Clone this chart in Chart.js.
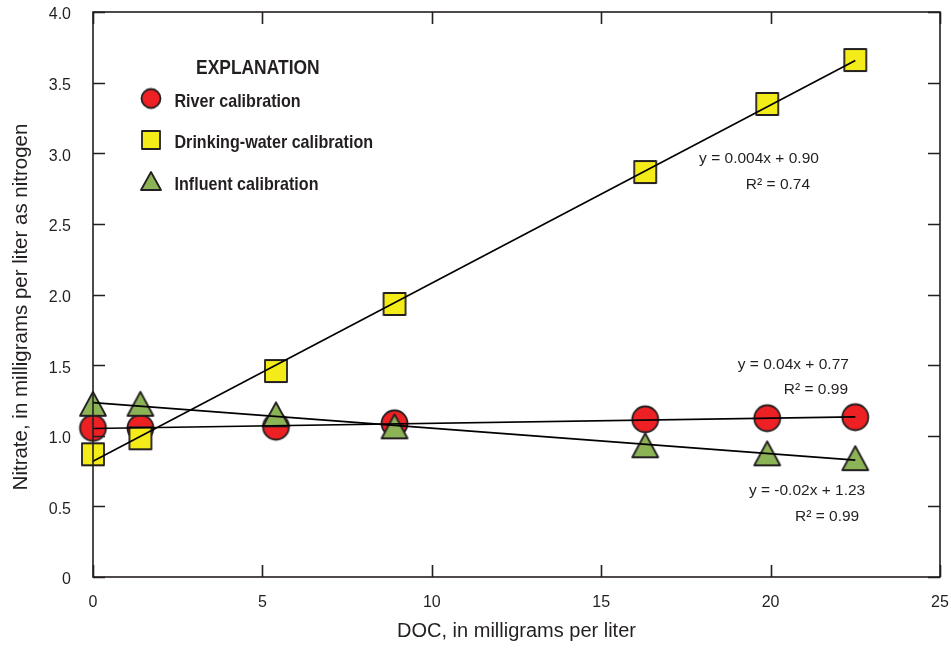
<!DOCTYPE html>
<html>
<head>
<meta charset="utf-8">
<script src="https://cdn.jsdelivr.net/npm/chart.js@4.4.0/dist/chart.umd.min.js"></script>
<style>
  html, body { margin: 0; padding: 0; background: #fff; }
  #wrap { width: 951px; height: 653px; position: relative; }
</style>
</head>
<body>
<div id="wrap"><canvas id="chart"></canvas></div>
<script>
// DOC (mg/L) of the calibration standards, same for all three series
const docValues = [0, 1.4, 5.4, 8.9, 16.3, 19.9, 22.5];
// nitrate (mg/L as N) measured for each calibration
const riverNitrate = [1.055, 1.055, 1.064, 1.088, 1.116, 1.124, 1.131];
const drinkingNitrate = [0.869, 0.982, 1.458, 1.933, 2.867, 3.349, 3.660];
const influentNitrate = [1.223, 1.223, 1.148, 1.063, 0.929, 0.872, 0.838];

const seriesNames = ['River calibration', 'Drinking-water calibration', 'Influent calibration'];

// tick values / labels
const xTicks = [0, 5, 10, 15, 20, 25];
const yTicks = [0, 0.5, 1.0, 1.5, 2.0, 2.5, 3.0, 3.5, 4.0];
const yTickLabels = ['0', '0.5', '1.0', '1.5', '2.0', '2.5', '3.0', '3.5', '4.0'];

const xTitle = 'DOC, in milligrams per liter';
const yTitle = 'Nitrate, in milligrams per liter as nitrogen';

// regression equations as printed on the figure
const fitText = [
    ['y = 0.004x + 0.90', 'R\u00B2 = 0.74'],
    ['y = 0.04x + 0.77', 'R\u00B2 = 0.99'],
    ['y = -0.02x + 1.23', 'R\u00B2 = 0.99']
];

const INK = '#231f20';
const FONT = "'Liberation Sans', Arial, sans-serif";

// least squares line through a series, drawn from first to last x
function fitLine(xs, ys) {
    const n = xs.length;
    const mx = xs.reduce((a, b) => a + b, 0) / n;
    const my = ys.reduce((a, b) => a + b, 0) / n;
    let sxy = 0, sxx = 0;
    for (let i = 0; i < n; i++) {
        sxy += (xs[i] - mx) * (ys[i] - my);
        sxx += (xs[i] - mx) * (xs[i] - mx);
    }
    const b = sxy / sxx;
    const a = my - b * mx;
    const x0 = Math.min(...xs), x1 = Math.max(...xs);
    return [{ x: x0, y: a + b * x0 }, { x: x1, y: a + b * x1 }];
}

// marker images (centered on their bounding box)
function makeMarker(shape, fill, w, h) {
    const pad = 3;
    const c = document.createElement('canvas');
    c.width = w + pad * 2;
    c.height = h + pad * 2;
    const g = c.getContext('2d');
    g.fillStyle = fill;
    g.strokeStyle = INK;
    g.lineWidth = 1.8;
    g.lineJoin = 'round';
    g.beginPath();
    if (shape === 'circle') {
        g.arc(pad + w / 2, pad + h / 2, w / 2 - 0.5, 0, Math.PI * 2);
    } else if (shape === 'square') {
        g.rect(pad + 1, pad + 1, w - 2, h - 2);
    } else {
        g.moveTo(pad + w / 2, pad);
        g.lineTo(pad + w, pad + h - 1);
        g.lineTo(pad, pad + h - 1);
        g.closePath();
    }
    g.fill();
    g.stroke();
    return c;
}

const RED = '#ed2024', YELLOW = '#f3ec19', GREEN = '#8cb356';
const markers = [
    makeMarker('circle', RED, 27, 27),
    makeMarker('square', YELLOW, 24, 24),
    makeMarker('triangle', GREEN, 26, 25)
];
const legendMarkers = [
    makeMarker('circle', RED, 20, 20),
    makeMarker('square', YELLOW, 20, 20),
    makeMarker('triangle', GREEN, 20, 19)
];

function toPoints(xs, ys) {
    return xs.map((x, i) => ({ x: x, y: ys[i] }));
}

const seriesValues = [riverNitrate, drinkingNitrate, influentNitrate];

// scatter sets: circles at the bottom, then squares, then triangles
const pointSets = seriesValues.map((ys, i) => ({
    label: seriesNames[i],
    data: toPoints(docValues, ys),
    pointStyle: markers[i],
    showLine: false,
    clip: false,
    order: 3 - i
}));

// trend lines sit over all markers
const lineSets = seriesValues.map((ys, i) => ({
    label: seriesNames[i] + ' fit',
    data: fitLine(docValues, ys),
    showLine: true,
    borderColor: '#000',
    borderWidth: 1.6,
    pointRadius: 0,
    clip: false,
    order: 0
}));

// condensed look: draw text squeezed horizontally
function squeezedText(ctx, text, x, y, sx) {
    ctx.save();
    ctx.translate(x, y);
    ctx.scale(sx, 1);
    ctx.fillText(text, 0, 0);
    ctx.restore();
}

// frame with inward ticks on all four sides, plus the explanation and equations
const framePlugin = {
    id: 'frame',
    afterDatasetsDraw(chart) {
        const { ctx, chartArea: a, scales } = chart;
        const tl = 12;
        ctx.save();
        ctx.strokeStyle = INK;
        ctx.lineWidth = 1.6;
        ctx.strokeRect(a.left, a.top, a.right - a.left, a.bottom - a.top);
        ctx.beginPath();
        xTicks.forEach(v => {
            const px = Math.round(scales.x.getPixelForValue(v)) + 0.5;
            ctx.moveTo(px, a.bottom); ctx.lineTo(px, a.bottom - tl);
            ctx.moveTo(px, a.top); ctx.lineTo(px, a.top + tl);
        });
        yTicks.forEach(v => {
            const py = Math.round(scales.y.getPixelForValue(v)) + 0.5;
            ctx.moveTo(a.left, py); ctx.lineTo(a.left + tl, py);
            ctx.moveTo(a.right, py); ctx.lineTo(a.right - tl, py);
        });
        ctx.stroke();
        ctx.restore();
    },
    afterDraw(chart) {
        const { ctx, scales } = chart;
        ctx.save();
        ctx.fillStyle = INK;

        // y axis title, set a little below the middle as in the figure
        ctx.save();
        ctx.translate(21, 307);
        ctx.rotate(-Math.PI / 2);
        ctx.textAlign = 'center';
        ctx.textBaseline = 'middle';
        ctx.font = '20.5px ' + FONT;
        ctx.fillText(yTitle, 0, 0);
        ctx.restore();

        ctx.textBaseline = 'alphabetic';
        ctx.textAlign = 'left';

        // explanation box
        ctx.font = 'bold 21px ' + FONT;
        squeezedText(ctx, 'EXPLANATION', 196, 74, 0.83);
        ctx.font = 'bold 17.7px ' + FONT;
        const rows = [98.5, 140, 181.5];
        const baselines = [106.5, 148, 189.5];
        seriesNames.forEach((name, i) => {
            const m = legendMarkers[i];
            ctx.drawImage(m, 151 - m.width / 2, rows[i] - m.height / 2);
            squeezedText(ctx, name, 174.5, baselines[i], 0.91);
        });

        // regression labels, anchored in data units
        const anchors = [
            [[17.89, 2.966], [19.27, 2.782]],
            [[19.03, 1.508], [20.39, 1.331]],
            [[19.36, 0.616], [20.72, 0.432]]
        ];
        ctx.textBaseline = 'middle';
        ctx.font = '15.5px ' + FONT;
        fitText.forEach((lines, i) => {
            lines.forEach((t, j) => {
                const [dx, dy] = anchors[i][j];
                ctx.fillText(t, scales.x.getPixelForValue(dx), scales.y.getPixelForValue(dy) + 1);
            });
        });
        ctx.restore();
    }
};

new Chart(document.getElementById('chart'), {
    type: 'scatter',
    data: { datasets: [...lineSets, ...pointSets] },
    options: {
        responsive: true,
        maintainAspectRatio: false,
        animation: false,
        layout: { autoPadding: false, padding: { top: 12, right: 11, bottom: 0, left: 0 } },
        plugins: {
            legend: { display: false },
            tooltip: { enabled: false }
        },
        scales: {
            x: {
                type: 'linear',
                min: 0,
                max: 25,
                afterBuildTicks: s => { s.ticks = xTicks.map(v => ({ value: v })); },
                afterFit: s => { s.height = 76; s.paddingLeft = 0; s.paddingRight = 0; },
                grid: { display: false, drawTicks: false },
                border: { display: false },
                ticks: {
                    color: INK,
                    font: { family: FONT, size: 16 },
                    padding: 16,
                    maxRotation: 0
                },
                title: {
                    display: true,
                    text: xTitle,
                    color: INK,
                    font: { family: FONT, size: 20 },
                    padding: { top: 0, bottom: 10 }
                }
            },
            y: {
                type: 'linear',
                min: 0,
                max: 4,
                afterBuildTicks: s => { s.ticks = yTicks.map(v => ({ value: v })); },
                afterFit: s => { s.width = 93; s.paddingTop = 0; s.paddingBottom = 0; },
                grid: { display: false, drawTicks: false },
                border: { display: false },
                ticks: {
                    color: INK,
                    font: { family: FONT, size: 16 },
                    padding: 22,
                    labelOffset: 3,
                    callback: (v) => yTickLabels[yTicks.indexOf(v)]
                },
                title: { display: false }
            }
        }
    },
    plugins: [framePlugin]
});
</script>
</body>
</html>
